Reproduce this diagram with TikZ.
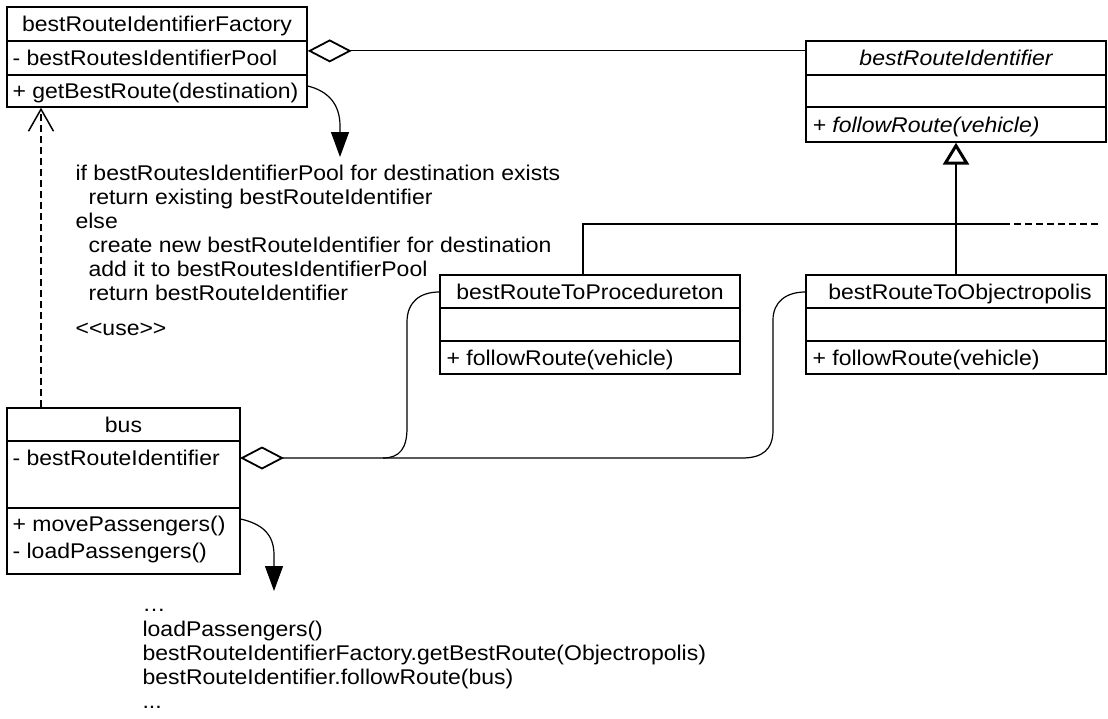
\documentclass[tikz,border=0pt]{standalone}
\usepackage{fontspec}
\setmainfont{Liberation Sans}[FakeStretch=1.08]
\usetikzlibrary{arrows.meta}
\begin{document}
\begin{tikzpicture}[x=1pt,y=-1pt,
  line width=1.2pt,
  box/.style={draw, rectangle, inner sep=0pt, line width=1.4pt},
  txt/.style={inner sep=0pt, anchor=base west, font=\fontsize{21.3}{24}\selectfont},
  ttl/.style={inner sep=0pt, anchor=base, font=\fontsize{21.3}{24}\selectfont},
  agg/.style={{Diamond[open,length=44pt,width=23pt,line width=1.8pt]}-},
  gen/.style={-{Triangle[open,length=22pt,width=26pt,line width=3pt]}},
  flow/.style={-{Triangle[length=25pt,width=18pt]}},
  dashline/.style={dash pattern=on 7pt off 4pt},
  dep/.style={dashline, -{Straight Barb[length=22pt,width=25pt,line width=1.5pt]}},
]
\useasboundingbox (0,0) rectangle (1108,718);

% bestRouteIdentifierFactory
\node[box, minimum width=300pt, minimum height=100pt] (fac) at (157,57) {};
\draw (7,41) -- (307,41); \draw (7,75) -- (307,75);
\node[ttl] (facT) at (157,31.5) {bestRouteIdentifierFactory};
\node[txt] (facA) at (12,65.5) {- bestRoutesIdentifierPool};
\node[txt] (facM) at (12,98.5) {+ getBestRoute(destination)};

% bestRouteIdentifier
\node[box, minimum width=300pt, minimum height=101pt] (bri) at (956,91.5) {};
\draw (806,75) -- (1106,75); \draw (806,107) -- (1106,107);
\node[ttl] (briT) at (956,65.5) {\itshape bestRouteIdentifier};
\node[txt] (briM) at (812,132) {\itshape + followRoute(vehicle)};

% bestRouteToProcedureton
\node[box, minimum width=300pt, minimum height=99pt] (pro) at (590,324.5) {};
\draw (440,308) -- (740,308); \draw (440,341) -- (740,341);
\node[ttl] (proT) at (590,299) {bestRouteToProcedureton};
\node[txt] (proM) at (446,365) {+ followRoute(vehicle)};

% bestRouteToObjectropolis
\node[box, minimum width=300pt, minimum height=99pt] (obj) at (956,324.5) {};
\draw (806,308) -- (1106,308); \draw (806,341) -- (1106,341);
\node[ttl] (objT) at (960,299) {bestRouteToObjectropolis};
\node[txt] (objM) at (812,365) {+ followRoute(vehicle)};

% bus
\node[box, minimum width=233pt, minimum height=166pt] (bus) at (123.5,491) {};
\draw (7,441) -- (240,441); \draw (7,508) -- (240,508);
\node[ttl] (busT) at (123.5,432) {bus};
\node[txt] (busA) at (12,465.5) {- bestRouteIdentifier};
\node[txt] (busM1) at (12,531.5) {+ movePassengers()};
\node[txt] (busM2) at (12,558.5) {- loadPassengers()};

% pseudo code 1
\node[txt] (p1) at (75,180) {if bestRoutesIdentifierPool for destination exists};
\node[txt] (p2) at (88,204) {return existing bestRouteIdentifier};
\node[txt] (p3) at (75,228) {else};
\node[txt] (p4) at (88,252) {create new bestRouteIdentifier for destination};
\node[txt] (p5) at (88,276) {add it to bestRoutesIdentifierPool};
\node[txt] (p6) at (88,300) {return bestRouteIdentifier};
\node[txt] (use) at (75,335) {<{}<use>{}>};

% pseudo code 2
\node[txt] (q1) at (142,611) {\dots};
\node[txt] (q2) at (142,636) {loadPassengers()};
\node[txt] (q3) at (142,660) {bestRouteIdentifierFactory.getBestRoute(Objectropolis)};
\node[txt] (q4) at (142,684) {bestRouteIdentifier.followRoute(bus)};
\node[txt] (q5) at (142,708) {...};

% connectors
\draw[agg] (fac.east |- facA) ++(0,-7) coordinate (fa) (fa) -- (fa -| bri.west);
\draw[gen] (obj.north) -- (bri.south);
\coordinate (gk) at (1003,224);
\coordinate (ge) at (1100,224);
\draw ([xshift=-7pt]pro.north) |- (gk);
\draw[dashline] (gk) -- (ge);

\coordinate (ba) at (240,458);
\draw[agg] (ba) -- (742,458) .. controls (762,458) and (773,450) .. (773,430)
  -- (773,320) .. controls (773,302) and (786,292) .. (obj.west |- 0,292);
\draw (pro.west |- 0,292) .. controls (420,292) and (407,302) .. (407,322)
  -- (407,428) .. controls (407,448) and (400,458) .. (383,458);

\draw[dep] (bus.north -| 41,0) -- (fac.south -| 41,0);
\draw[flow] (fac.east |- facM) ++(0,-7) coordinate (fm) (fm) .. controls (328,91) and (340,104) .. (340,126) -- (340,157);
\draw[flow] (bus.east |- busM1) ++(0,-7) coordinate (bm) (bm) .. controls (262,524) and (274,534) .. (274,555) -- (274,591);
\end{tikzpicture}
\end{document}
